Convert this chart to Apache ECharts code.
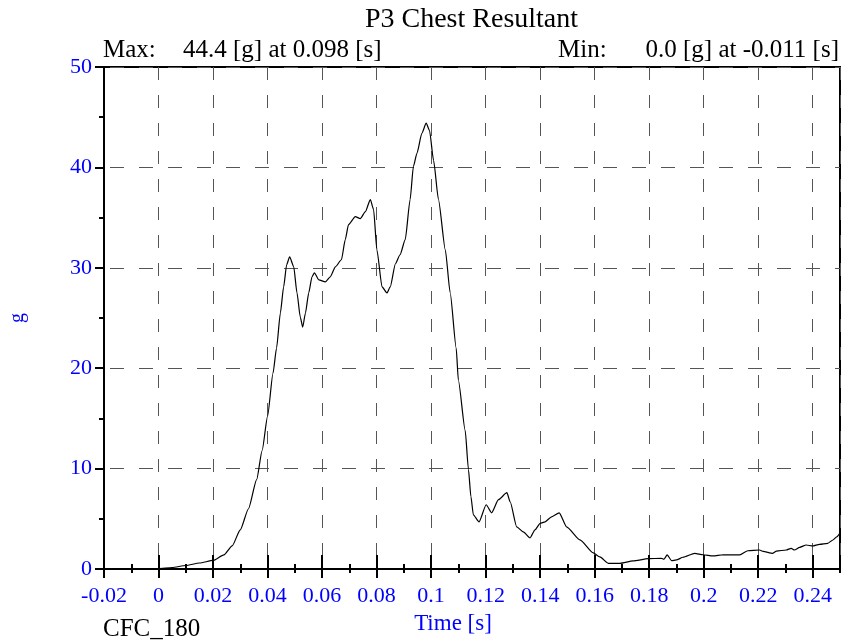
<!DOCTYPE html>
<html>
<head>
<meta charset="utf-8">
<script src="https://cdn.jsdelivr.net/npm/echarts@6/dist/echarts.min.js"></script>
</head>
<body style="margin:0">
<div id="chart" style="width:855px;height:644px"></div>
<script>
const timeValues = [-0.02, -0.011, 0, 0.005, 0.01, 0.015, 0.02, 0.024, 0.027, 0.03, 0.033, 0.036, 0.038, 0.04, 0.042, 0.0433, 0.0447, 0.0459, 0.047, 0.0481, 0.0496, 0.0508, 0.052, 0.0529, 0.0539, 0.0551, 0.0563, 0.0572, 0.0588, 0.0612, 0.063, 0.0649, 0.0671, 0.0685, 0.0697, 0.0722, 0.074, 0.0759, 0.0777, 0.0789, 0.0801, 0.082, 0.0838, 0.085, 0.0869, 0.0886, 0.0905, 0.0923, 0.0935, 0.0948, 0.0966, 0.0982, 0.0994, 0.1009, 0.1027, 0.1052, 0.107, 0.1092, 0.11, 0.1125, 0.1137, 0.1146, 0.1155, 0.1176, 0.1202, 0.1222, 0.1247, 0.1278, 0.129, 0.1314, 0.1338, 0.1363, 0.1381, 0.14, 0.1418, 0.1442, 0.147, 0.1497, 0.1546, 0.1595, 0.1619, 0.165, 0.1693, 0.1741, 0.1796, 0.1845, 0.1854, 0.1866, 0.1882, 0.19, 0.1924, 0.1967, 0.1998, 0.2034, 0.2071, 0.2132, 0.2162, 0.2205, 0.2218, 0.2252, 0.2267, 0.2303, 0.2321, 0.2333, 0.2352, 0.2376, 0.24, 0.2425, 0.2455, 0.2474, 0.2488, 0.25];
const chestG = [0, 0, 0.05, 0.15, 0.35, 0.6, 0.85, 1.4, 2.3, 3.9, 6.0, 8.9, 11.8, 15.2, 19.5, 22.0, 25.5, 28.1, 30.3, 31.1, 30.1, 27.5, 25.1, 24.1, 25.5, 27.5, 29.1, 29.5, 28.8, 28.6, 29.1, 30.1, 30.8, 32.8, 34.3, 35.1, 34.9, 35.6, 36.8, 35.8, 31.8, 28.1, 27.5, 28.1, 30.4, 31.3, 32.8, 36.8, 40.1, 41.4, 43.4, 44.4, 43.7, 40.7, 36.8, 31.8, 27.5, 22.0, 18.8, 13.8, 9.9, 7.2, 5.4, 4.7, 6.4, 5.6, 6.9, 7.6, 6.7, 4.2, 3.7, 3.1, 3.9, 4.55, 4.7, 5.2, 5.6, 4.2, 2.9, 1.6, 1.2, 0.57, 0.57, 0.8, 1.03, 1.06, 0.97, 1.4, 0.83, 0.9, 1.17, 1.56, 1.42, 1.3, 1.42, 1.4, 1.82, 1.89, 1.75, 1.56, 1.79, 1.89, 2.06, 1.89, 2.16, 2.39, 2.29, 2.46, 2.56, 2.89, 3.2, 3.6];

const chartTitle = 'P3 Chest Resultant';
const maxLabel = 'Max:';
const maxText = '44.4 [g] at 0.098 [s]';
const minLabel = 'Min:';
const minText = '0.0 [g] at -0.011 [s]';
const filterText = 'CFC_180';
const xAxisName = 'Time [s]';
const yAxisName = 'g';

const X_MIN = -0.02, X_MAX = 0.25, X_STEP = 0.02, X_MINOR = 0.01;
const Y_MIN = 0, Y_MAX = 50, Y_STEP = 10;

const serif = '"Liberation Serif", "Times New Roman", serif';
const blue = '#0000ff';
const tickColor = '#000';

const chart = echarts.init(document.getElementById('chart'));

function auxX(interval, len, inside) {
  return {
    type: 'value', min: X_MIN, max: X_MAX, interval: interval, position: 'bottom',
    axisLine: {show: false, onZero: false}, axisLabel: {show: false}, splitLine: {show: false},
    axisTick: {show: true, inside: inside, length: len, lineStyle: {color: tickColor, width: 2}}
  };
}
function txt(text, pos, size, color, align) {
  return Object.assign({text: text, padding: 0, itemGap: 0, textAlign: align || 'left',
    textStyle: {fontFamily: serif, fontSize: size, fontWeight: 'normal', color: color}}, pos);
}

chart.setOption({
  animation: false,
  title: [
    txt(chartTitle, {left: 471.5, top: 6}, 28, '#000', 'center'),
    txt(maxLabel, {left: 103, top: 38}, 25, '#000'),
    txt(maxText, {left: 183, top: 38}, 25, '#000'),
    txt(minLabel, {left: 558, top: 38}, 25, '#000'),
    txt(minText, {left: 839, top: 38}, 25, '#000', 'right'),
    txt(filterText, {left: 103, top: 617}, 25, '#000'),
    txt(xAxisName, {left: 453, top: 612}, 23, blue, 'center')
  ],
  grid: {left: 103, right: 15, top: 67, bottom: 75, show: true, borderColor: '#000', borderWidth: 2, backgroundColor: 'transparent'},
  xAxis: [
    {
      type: 'value', min: X_MIN, max: X_MAX, interval: X_STEP, position: 'bottom',
      axisLine: {show: true, onZero: false, lineStyle: {color: '#000', width: 2}},
      axisTick: {show: true, inside: false, length: 9, lineStyle: {color: tickColor, width: 2}},
      axisLabel: {show: true, color: blue, fontFamily: serif, fontSize: 22, margin: 16, showMaxLabel: false},
      splitLine: {show: true, lineStyle: {color: '#555', width: 1, type: [13, 15]}}
    },
    auxX(X_STEP, 14, true),
    auxX(X_MINOR, 4, false),
    auxX(X_MINOR, 5, true)
  ],
  yAxis: [
    {
      type: 'value', min: Y_MIN, max: Y_MAX, interval: Y_STEP, position: 'left',
      name: yAxisName, nameLocation: 'middle', nameRotate: 90, nameGap: 76,
      nameTextStyle: {color: blue, fontFamily: serif, fontSize: 20},
      axisLine: {show: true, onZero: false, lineStyle: {color: '#000', width: 2}},
      axisTick: {show: true, inside: false, length: 9, lineStyle: {color: tickColor, width: 2}},
      minorTick: {show: true, splitNumber: 2, length: 5, lineStyle: {color: tickColor, width: 2}},
      axisLabel: {show: true, color: blue, fontFamily: serif, fontSize: 22, margin: 12},
      splitLine: {show: true, lineStyle: {color: '#555', width: 1, type: [14, 15], dashOffset: 23}}
    }
  ],
  series: [{
    type: 'line', xAxisIndex: 0, yAxisIndex: 0,
    data: timeValues.map((t, i) => [t, chestG[i]]),
    symbol: 'none', smooth: 0.2, smoothMonotone: 'x',
    lineStyle: {color: '#000', width: 1.2}, clip: true
  }]
});
</script>
</body>
</html>
